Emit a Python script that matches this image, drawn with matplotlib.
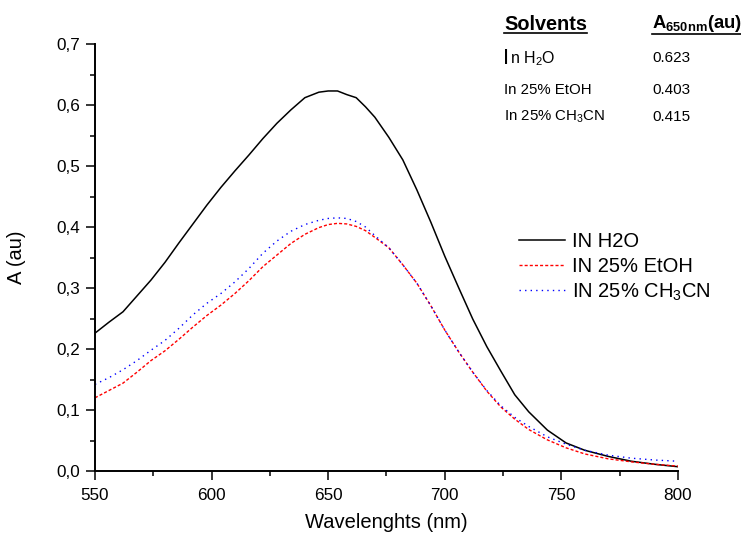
import matplotlib
matplotlib.use("Agg")
import matplotlib.pyplot as plt
from matplotlib.lines import Line2D

plt.rcParams["font.family"] = ["Liberation Sans", "DejaVu Sans"]
plt.rcParams["mathtext.fontset"] = "custom"
plt.rcParams["mathtext.rm"] = "Liberation Sans"
plt.rcParams["mathtext.it"] = "Liberation Sans:italic"
plt.rcParams["mathtext.bf"] = "Liberation Sans:bold"

# wavelengths (nm)
wavelength = [550, 556, 562, 568, 574, 580, 586, 592, 598, 604, 610, 616, 622,
              628, 634, 640, 646, 650, 654, 658, 662, 666, 670, 676, 682, 688,
              694, 700, 706, 712, 718, 724, 730, 736, 744, 752, 760, 770, 780,
              790, 800]

abs_h2o = [0.226, 0.244, 0.261, 0.287, 0.313, 0.342, 0.374, 0.405, 0.436,
           0.465, 0.492, 0.518, 0.545, 0.570, 0.592, 0.612, 0.621, 0.623,
           0.623, 0.617, 0.612, 0.597, 0.580, 0.547, 0.510, 0.461, 0.408,
           0.352, 0.300, 0.249, 0.204, 0.164, 0.125, 0.097, 0.067, 0.046,
           0.034, 0.024, 0.016, 0.011, 0.007]

abs_etoh = [0.120, 0.132, 0.144, 0.162, 0.181, 0.197, 0.216, 0.236, 0.255,
            0.272, 0.291, 0.312, 0.335, 0.354, 0.373, 0.388, 0.399, 0.404,
            0.406, 0.405, 0.401, 0.394, 0.383, 0.366, 0.338, 0.308, 0.271,
            0.231, 0.195, 0.162, 0.131, 0.105, 0.085, 0.068, 0.051, 0.038,
            0.028, 0.020, 0.015, 0.011, 0.008]

abs_ch3cn = [0.142, 0.153, 0.166, 0.181, 0.198, 0.214, 0.234, 0.256, 0.275,
             0.291, 0.310, 0.332, 0.357, 0.377, 0.393, 0.404, 0.411, 0.414,
             0.415, 0.414, 0.409, 0.400, 0.386, 0.366, 0.338, 0.308, 0.271,
             0.231, 0.195, 0.162, 0.132, 0.107, 0.088, 0.073, 0.056, 0.044,
             0.034, 0.026, 0.021, 0.018, 0.016]

legend_labels = ["IN H2O", "IN 25% EtOH", r"IN 25% CH$_3$CN"]

table_solvents = [r"n H$_2$O", "In 25% EtOH", r"In 25% CH$_3$CN"]
table_values = ["0.623", "0.403", "0.415"]

W, H = 741, 535
fig = plt.figure(figsize=(W / 100, H / 100), dpi=100)
ax = fig.add_axes([95 / W, 1 - 471 / H, (678 - 95) / W, (471 - 44) / H])

ax.plot(wavelength, abs_h2o, color="black", lw=1.1, label=legend_labels[0])
ax.plot(wavelength, abs_etoh, color="#ff0000", lw=1.0, dashes=(2.2, 1.5),
        label=legend_labels[1])
ax.plot(wavelength, abs_ch3cn, color="#0000ff", lw=1.0, dashes=(1, 3),
        label=legend_labels[2])

ax.set_xlim(550, 800)
ax.set_ylim(0, 0.7)
ax.set_xticks([550, 600, 650, 700, 750, 800])
ax.set_xticks([575, 625, 675, 725, 775], minor=True)
yt = [0.0, 0.1, 0.2, 0.3, 0.4, 0.5, 0.6, 0.7]
ax.set_yticks(yt)
ax.set_yticklabels([f"{v:.1f}".replace(".", ",") for v in yt])
ax.set_yticks([0.05, 0.15, 0.25, 0.35, 0.45, 0.55, 0.65], minor=True)
ax.tick_params(which="major", direction="out", length=6.5, width=1.1,
               labelsize=12.3, pad=4)
ax.tick_params(axis="x", which="major", pad=6)
ax.tick_params(which="minor", direction="out", length=3.3, width=1.1)
for s in ("top", "right"):
    ax.spines[s].set_visible(False)
for s in ("left", "bottom"):
    ax.spines[s].set_linewidth(1.4)

ax.set_xlabel("Wavelenghts (nm)", fontsize=14.5)
ax.xaxis.set_label_coords(0.5, -0.098)
ax.set_ylabel("A (au)", fontsize=14.5)
ax.yaxis.set_label_coords(-0.118, 0.5)

ax.legend(loc="upper left", bbox_to_anchor=(519 / W, 1 - 232 / H),
          bbox_transform=fig.transFigure, frameon=False, fontsize=14.5,
          handlelength=2.3, handletextpad=0.35, labelspacing=0.28,
          borderpad=0, borderaxespad=0)

# table in the top right corner
def fx(px):
    return px / W

def fy(py):
    return 1 - py / H

t1 = fig.text(fx(504), fy(24), "Solvents", fontsize=14.3, fontweight="bold",
              va="center", ha="left")
t2 = fig.text(fx(652), fy(24), r"$\mathbf{A_{650nm}(au)}$", fontsize=13.3,
              va="center", ha="left")
fig.text(fx(503), fy(58), "I", fontsize=16, va="center", ha="left")
fig.text(fx(510), fy(59), table_solvents[0], fontsize=11.5, va="center",
         ha="left")
fig.text(fx(652), fy(58), table_values[0], fontsize=11, va="center", ha="left")
for i, row_y in enumerate([90, 117]):
    fig.text(fx(504), fy(row_y), table_solvents[i + 1], fontsize=10.8,
             va="center", ha="left")
    fig.text(fx(652), fy(row_y), table_values[i + 1], fontsize=11,
             va="center", ha="left")

# underline the table headers
fig.canvas.draw()
renderer = fig.canvas.get_renderer()
for t, uy in ((t1, 32.5), (t2, 34)):
    bb = t.get_window_extent(renderer)
    fig.add_artist(Line2D([bb.x0 / W, bb.x1 / W], [fy(uy), fy(uy)],
                          color="black", lw=1.2, transform=fig.transFigure))

fig.savefig("out.png", dpi=100)
